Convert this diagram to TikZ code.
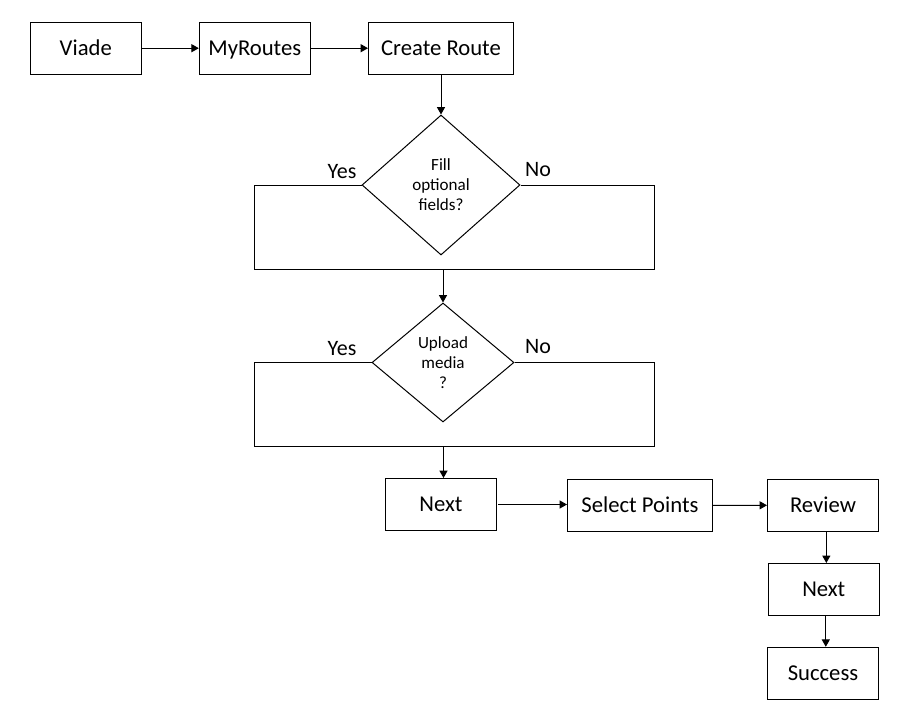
\documentclass[tikz,border=0pt]{standalone}
\usepackage{fontspec}
\setmainfont{Carlito}
\usetikzlibrary{shapes.geometric,arrows.meta}
\begin{document}
\begin{tikzpicture}[x=0.75pt,y=-0.75pt,
  line width=0.75pt,
  box/.style={draw, line width=0.75pt, minimum width=83.25pt, minimum height=39pt,
    inner sep=0pt, font=\fontsize{17}{20}\selectfont, text height=10.9pt, text depth=0pt},
  widebox/.style={box, minimum width=108.75pt},
  decision/.style={draw, diamond, line width=0.75pt, inner sep=0pt, align=center,
    font=\fontsize{12.8}{15}\selectfont},
  lab/.style={inner sep=0pt, anchor=base, font=\fontsize{16.5}{20}\selectfont},
  arr/.style={-{Triangle[length=5.5pt,width=6pt]}, line width=0.75pt},
  ln/.style={line width=0.75pt}
]
\useasboundingbox (0,0) rectangle (904,717);
\fill[white] (0,0) rectangle (904,717);

\node[box] (viade) at (85.8,48.2) {Viade};
\node[box] (myroutes) at (254.8,48.2) {MyRoutes};
\node[widebox] (create) at (441,48.2) {Create Route};

\node[decision, minimum width=118.5pt, minimum height=105pt] (d1) at (441,185) {Fill\\optional\\fields?};
\node[decision, minimum width=106.5pt, minimum height=89.25pt] (d2) at (443,362.5) {Upload\\media\\?};

\node[lab] (yes1) at (342,178.3) {Yes};
\node[lab] (no1) at (538,176.5) {No};
\node[lab] (yes2) at (342,355) {Yes};
\node[lab] (no2) at (538,353.5) {No};

\node[box] (next1) at (441,504.5) {Next};
\node[widebox] (select) at (640,505.5) {Select Points};
\node[box] (review) at (823,505.2) {Review};
\node[box] (next2) at (823.8,589.5) {Next};
\node[box] (success) at (823,673.3) {Success};

\coordinate (l1) at (254,269);
\coordinate (r1) at (654,269);
\coordinate (j1) at (443,269);
\coordinate (l2) at (254,446);
\coordinate (r2) at (654,446);
\coordinate (j2) at (443.5,446);

\draw[arr] (viade) -- (myroutes);
\draw[arr] (myroutes) -- (create);
\draw[arr] (create) -- (d1);
\draw[ln] (d1.west) -| (l1) -- (r1) |- (d1.east);
\draw[arr] (j1) -- (d2);
\draw[ln] (d2.west) -| (l2) -- (r2) |- (d2.east);
\draw[arr] (j2) -- (j2 |- next1.north);
\draw[arr] ([xshift=1pt]next1.east) -- (next1.east -| select.west);
\draw[arr] (select) -- (review);
\draw[arr] ([xshift=2.5pt]review.south) -- ([xshift=2.5pt]review.south |- next2.north);
\draw[arr] ([xshift=1.5pt]next2.south) -- ([xshift=1.5pt]next2.south |- success.north);
\end{tikzpicture}
\end{document}
